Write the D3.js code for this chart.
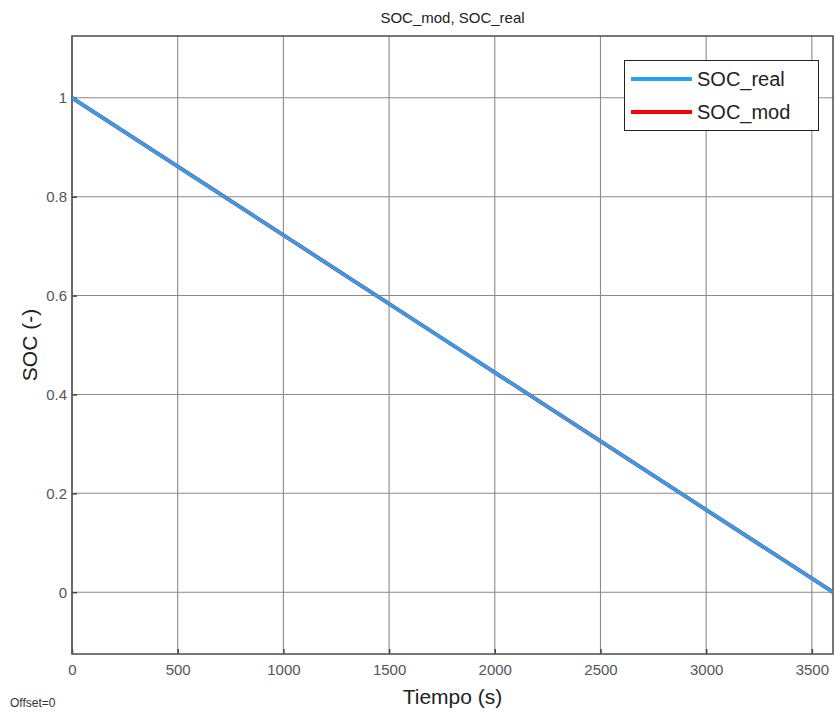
<!DOCTYPE html>
<html>
<head>
<meta charset="utf-8">
<script src="https://cdn.jsdelivr.net/npm/d3@7"></script>
<style>
  html, body { margin: 0; padding: 0; background: #fff; }
  svg { display: block; font-family: "Liberation Sans", Arial, sans-serif; }
</style>
</head>
<body>
<svg id="chart" width="835" height="714"></svg>
<script>
// Time samples (s) and state of charge for both signals
const tiempo = [0, 600, 1200, 1800, 2400, 3000, 3600];
const socReal = [1, 0.8333, 0.6667, 0.5, 0.3333, 0.1667, 0];
const socMod = [1, 0.8333, 0.6667, 0.5, 0.3333, 0.1667, 0];
const xTicks = [0, 500, 1000, 1500, 2000, 2500, 3000, 3500];
const yTicks = [0, 0.2, 0.4, 0.6, 0.8, 1];
const seriesNames = ["SOC_real", "SOC_mod"];
const seriesColors = ["#2b9ff0", "#ff0000"];

const svg = d3.select("#chart");
const m = { left: 72, right: 833, top: 36, bottom: 654 };

const x = d3.scaleLinear().domain([0, 3600]).range([m.left, m.right]);
const y = d3.scaleLinear().domain([-0.125, 1.125]).range([m.bottom, m.top]);

// Grid
const grid = svg.append("g").attr("stroke", "#8a8a8a").attr("stroke-width", 1.1);
xTicks.forEach(t => grid.append("line").attr("x1", x(t)).attr("x2", x(t)).attr("y1", m.top).attr("y2", m.bottom));
yTicks.forEach(t => grid.append("line").attr("x1", m.left).attr("x2", m.right).attr("y1", y(t)).attr("y2", y(t)));

// Axes with inward ticks
const xAxis = svg.append("g").attr("transform", `translate(0,${m.bottom})`)
  .call(d3.axisBottom(x).tickValues(xTicks).tickSize(-5).tickPadding(10).tickFormat(d3.format("d")));
const yAxis = svg.append("g").attr("transform", `translate(${m.left},0)`)
  .call(d3.axisLeft(y).tickValues(yTicks).tickSize(-5).tickPadding(5).tickFormat(d => d === 0 || d === 1 ? String(d) : d3.format(".1f")(d)));
[xAxis, yAxis].forEach(g => {
  g.select(".domain").remove();
  g.selectAll(".tick line").attr("stroke", "#444").attr("stroke-width", 1.5);
  g.selectAll(".tick text").attr("fill", "#555").attr("font-size", 15)
    .attr("font-family", "'Liberation Sans', Arial, sans-serif");
});

// Frame
svg.append("rect").attr("x", m.left).attr("y", m.top)
  .attr("width", m.right - m.left).attr("height", m.bottom - m.top)
  .attr("fill", "none").attr("stroke", "#555").attr("stroke-width", 1.6);

// Lines: model underneath, real on top
const line = vals => d3.line().x((d, i) => x(tiempo[i])).y(d => y(d))(vals);
svg.append("path").attr("d", line(socMod)).attr("fill", "none").attr("stroke", seriesColors[1]).attr("stroke-width", 3.8);
svg.append("path").attr("d", line(socReal)).attr("fill", "none").attr("stroke", seriesColors[0]).attr("stroke-width", 3.4);

// Title and labels
svg.append("text").attr("x", (m.left + m.right) / 2).attr("y", 23).attr("text-anchor", "middle")
  .attr("font-size", 15).attr("fill", "#222").text("SOC_mod, SOC_real");
svg.append("text").attr("x", (m.left + m.right) / 2).attr("y", 704).attr("text-anchor", "middle")
  .attr("font-size", 21).attr("fill", "#222").text("Tiempo (s)");
svg.append("text").attr("transform", `translate(37,${(m.top + m.bottom) / 2}) rotate(-90)`).attr("text-anchor", "middle")
  .attr("font-size", 21).attr("fill", "#222").text("SOC (-)");
svg.append("text").attr("x", 10).attr("y", 707).attr("font-size", 12).attr("fill", "#333").text("Offset=0");

// Legend
const lg = svg.append("g");
lg.append("rect").attr("x", 624.5).attr("y", 60.5).attr("width", 194).attr("height", 70)
  .attr("fill", "#fff").attr("stroke", "#222").attr("stroke-width", 1);
seriesNames.forEach((name, i) => {
  const yy = 79 + i * 33;
  lg.append("line").attr("x1", 631).attr("x2", 692).attr("y1", yy).attr("y2", yy)
    .attr("stroke", seriesColors[i]).attr("stroke-width", 4);
  lg.append("text").attr("x", 697).attr("y", yy + 7).attr("font-size", 20).attr("fill", "#222").text(name);
});
</script>
</body>
</html>
